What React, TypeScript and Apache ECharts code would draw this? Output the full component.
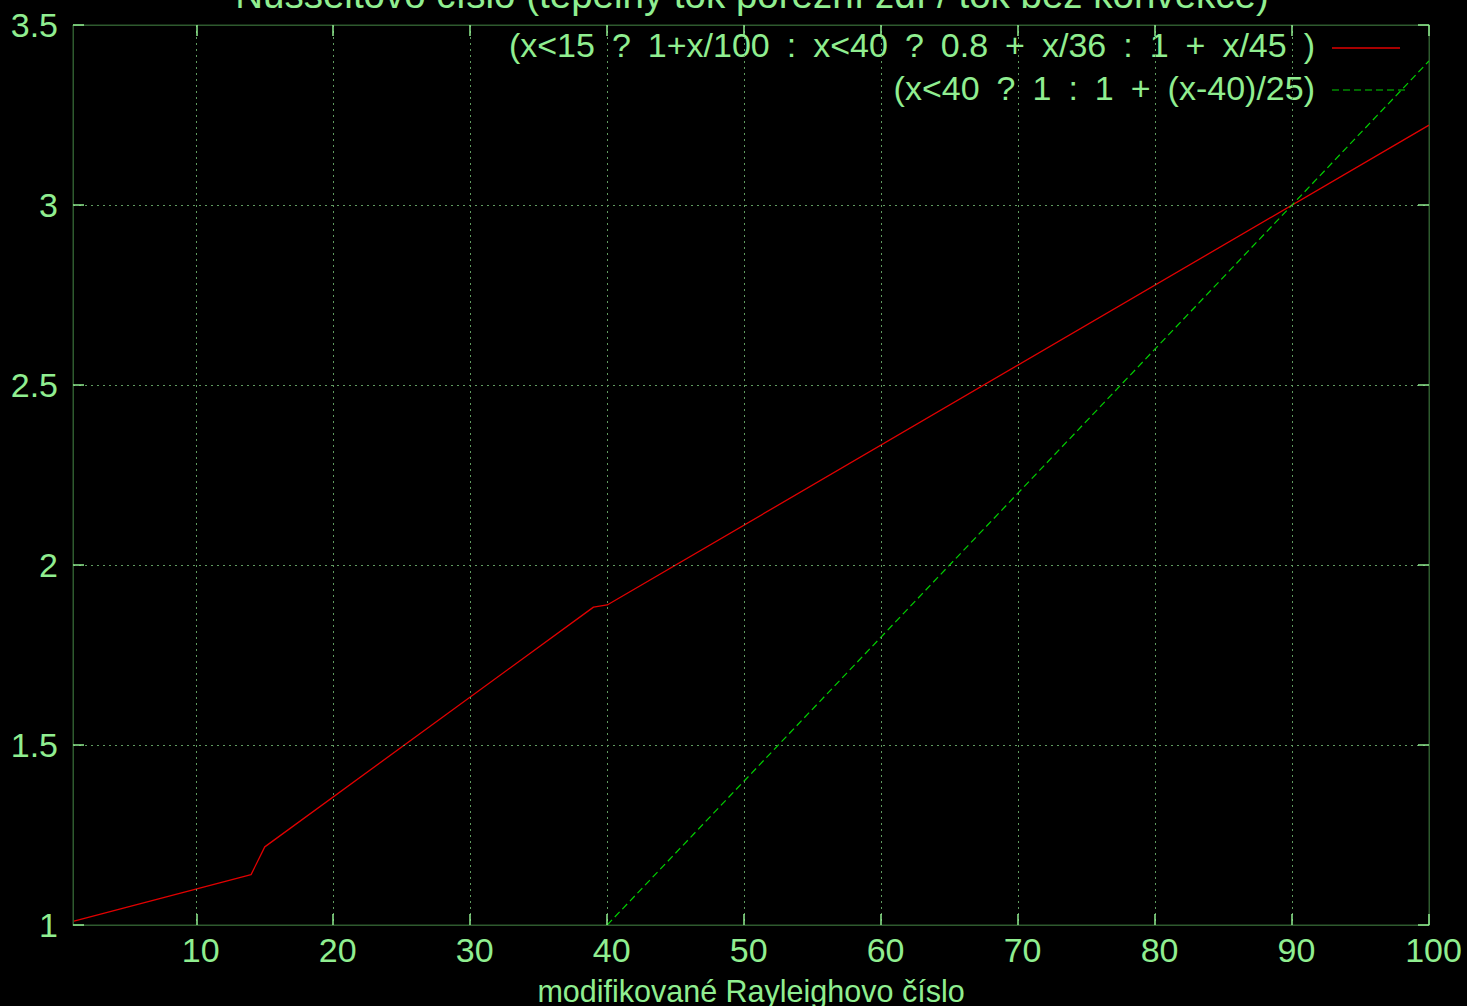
import React, { useEffect, useRef } from "react";
import * as echarts from "echarts";

const titleText = "Nusseltovo číslo (tepelný tok porézní zdí / tok bez konvekce)";
const xAxisName = "modifikované Rayleighovo číslo";
const xTicks = [10, 20, 30, 40, 50, 60, 70, 80, 90, 100];
const seriesNames = [
  "(x<15 ? 1+x/100 : x<40 ? 0.8 + x/36 : 1 + x/45 )",
  "(x<40 ? 1 : 1 + (x-40)/25)",
];
const redX = [1, 14, 15, 39, 40, 100];
const redY = [1.01, 1.14, 1.217, 1.883, 1.889, 3.222];
const greenX = [40, 100];
const greenY = [1, 3.4];

const TXT = "#90ee90";
const BORDER = "#2e5a2e";
const GRID = "#5f9a5f";
const RED = "#e00000";
const GREEN = "#00d000";
const FONT = "Liberation Sans, Arial, sans-serif";
// gnuplot-style wide word spacing in the key
const wide = (s: string) => s.replace(/ /g, "\u2002");

export default function App() {
  const ref = useRef<HTMLDivElement>(null);
  useEffect(() => {
    if (!ref.current) return;
    const chart = echarts.init(ref.current, null, { renderer: "svg" });
    const red = redX.map((x, i) => [x, redY[i]]);
    const green = greenX.map((x, i) => [x, greenY[i]]);
    const tickStyle = { show: true, inside: true, length: 11, lineStyle: { color: TXT, width: 1.5 } };
    chart.setOption({
      animation: false,
      backgroundColor: "#000000",
      textStyle: { fontFamily: FONT },
      grid: {
        left: 73,
        right: 38,
        top: 25,
        bottom: 81,
        show: true,
        borderColor: BORDER,
        borderWidth: 1,
        containLabel: false,
        outerBoundsMode: "none",
      },
      xAxis: [
        {
          type: "value",
          min: 1,
          max: 100,
          z: 5,
          axisLine: { show: true, lineStyle: { color: BORDER, width: 1 } },
          axisTick: { ...tickStyle, customValues: xTicks },
          axisLabel: {
            customValues: xTicks,
            color: TXT,
            fontSize: 34,
            fontFamily: FONT,
            margin: 8,
            padding: [0, 0, 0, 9],
          },
          splitLine: { show: true, lineStyle: { color: GRID, type: [2, 4], width: 1 } },
          name: xAxisName,
          nameLocation: "middle",
          nameGap: 50,
          nameTextStyle: { color: TXT, fontSize: 30.5, fontFamily: FONT },
        },
        {
          type: "value",
          position: "top",
          min: 1,
          max: 100,
          z: 5,
          axisLine: { show: true, lineStyle: { color: BORDER, width: 1 } },
          axisTick: { ...tickStyle, customValues: xTicks },
          axisLabel: { show: false },
          splitLine: { show: false },
        },
      ],
      yAxis: [
        {
          type: "value",
          min: 1,
          max: 3.5,
          interval: 0.5,
          z: 5,
          axisLine: { show: true, lineStyle: { color: BORDER, width: 1 } },
          axisTick: tickStyle,
          axisLabel: { color: TXT, fontSize: 34, fontFamily: FONT, margin: 15 },
          splitLine: { show: true, lineStyle: { color: GRID, type: [2, 4], width: 1 } },
        },
        {
          type: "value",
          position: "right",
          min: 1,
          max: 3.5,
          interval: 0.5,
          z: 5,
          axisLine: { show: true, lineStyle: { color: BORDER, width: 1 } },
          axisTick: tickStyle,
          axisLabel: { show: false },
          splitLine: { show: false },
        },
      ],
      series: [
        {
          name: seriesNames[0],
          type: "line",
          data: red,
          showSymbol: false,
          symbol: "none",
          z: 2,
          lineStyle: { color: RED, width: 1.3 },
        },
        {
          name: seriesNames[1],
          type: "line",
          data: green,
          showSymbol: false,
          symbol: "none",
          z: 2,
          lineStyle: { color: GREEN, width: 1.2, type: [7, 4] },
        },
      ],
      graphic: [
        {
          type: "text",
          x: 752,
          y: -6,
          style: { text: titleText, fill: TXT, font: `38.5px ${FONT}`, textAlign: "center", textVerticalAlign: "middle" },
        },
        {
          type: "text",
          x: 1315,
          y: 45,
          style: { text: wide(seriesNames[0]), fill: TXT, font: `34px ${FONT}`, textAlign: "right", textVerticalAlign: "middle" },
        },
        {
          type: "text",
          x: 1315,
          y: 88,
          style: { text: wide(seriesNames[1]), fill: TXT, font: `34px ${FONT}`, textAlign: "right", textVerticalAlign: "middle" },
        },
        {
          type: "line",
          shape: { x1: 1332, y1: 48, x2: 1400, y2: 48 },
          style: { stroke: RED, lineWidth: 1.3 },
        },
        {
          type: "line",
          shape: { x1: 1332, y1: 90, x2: 1405, y2: 90 },
          style: { stroke: GREEN, lineWidth: 1.2, lineDash: [7, 4] },
        },
      ],
    });
    return () => chart.dispose();
  }, []);
  return <div ref={ref} style={{ width: 1467, height: 1006, position: "absolute", left: 0, top: 0 }} />;
}
